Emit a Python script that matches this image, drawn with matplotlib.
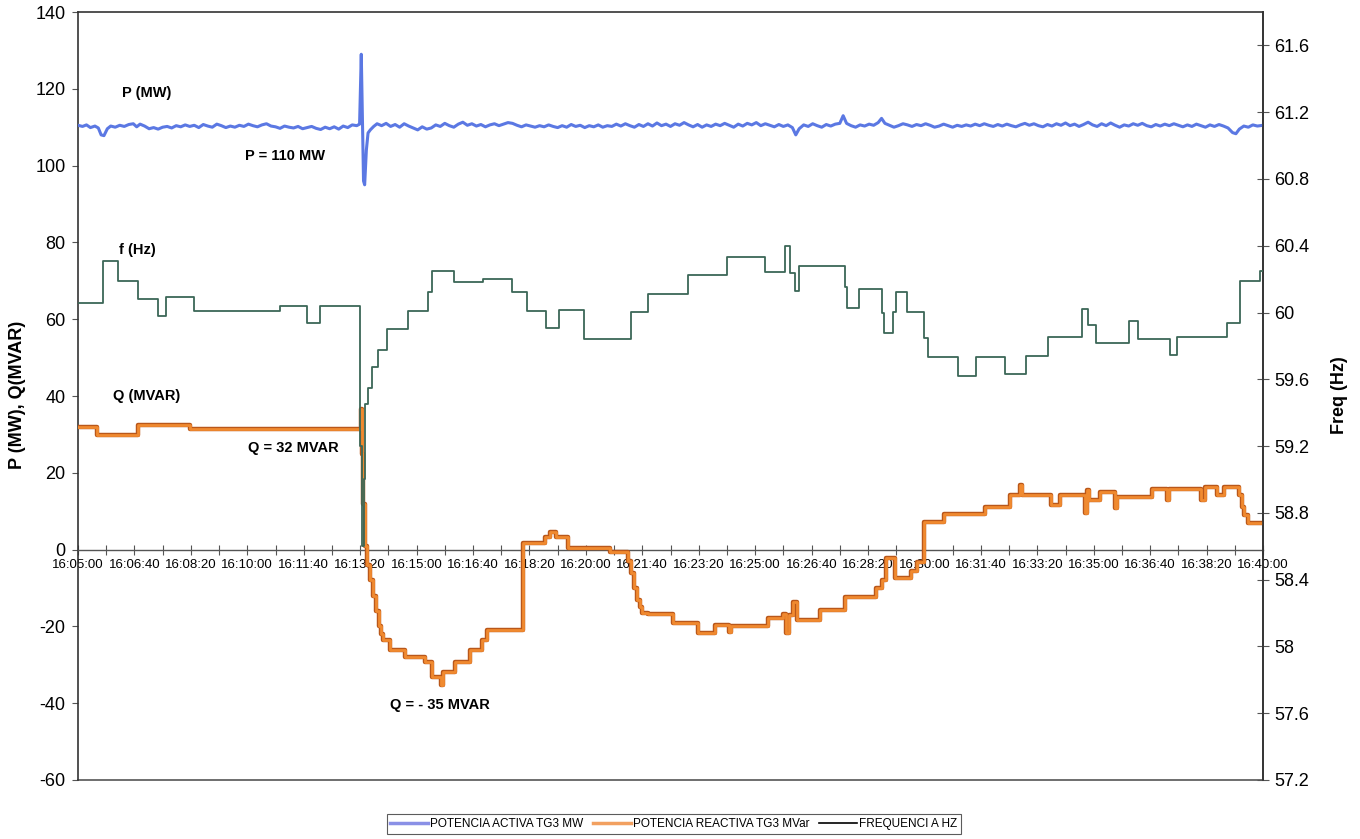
import matplotlib
matplotlib.use("Agg")
import matplotlib.pyplot as plt
import matplotlib.patheffects as pe
from matplotlib.lines import Line2D
from matplotlib.ticker import MultipleLocator, FuncFormatter, FixedLocator

plt.rcParams['font.family'] = ['Liberation Sans', 'DejaVu Sans']

# ---------------- data (seconds after 16:05:00) ----------------
p_t = [0, 8, 15, 22, 30, 36, 41, 46, 52, 58, 66, 74, 82, 90, 98, 104, 110, 118, 126, 134,
       142, 150, 158, 166, 174, 182, 190, 198, 206, 214, 222, 230, 238, 246, 254, 262, 270,
       278, 286, 294, 302, 310, 318, 326, 334, 342, 350, 358, 366, 374, 382, 390, 398, 406,
       414, 422, 430, 438, 446, 454, 462, 470, 478, 486, 494, 499, 502, 504, 506, 508, 511,
       514, 518, 524, 530, 538, 546, 554, 562, 570, 578, 586, 594, 602, 610, 618, 626, 634,
       642, 650, 658, 666, 674, 682, 690, 698, 706, 714, 722, 730, 738, 746, 754, 762, 770,
       778, 786, 794, 802, 810, 818, 826, 834, 842, 850, 858, 866, 874, 882, 890, 898, 906,
       914, 922, 930, 938, 946, 954, 962, 970, 978, 986, 994, 1002, 1010, 1018, 1026, 1034,
       1042, 1050, 1058, 1066, 1074, 1082, 1090, 1098, 1106, 1114, 1122, 1130, 1138, 1146,
       1154, 1162, 1170, 1178, 1186, 1194, 1202, 1210, 1218, 1226, 1234, 1242, 1250, 1258,
       1266, 1272, 1278, 1286, 1294, 1302, 1310, 1318, 1326, 1334, 1342, 1350, 1356, 1362,
       1370, 1378, 1386, 1394, 1402, 1410, 1418, 1424, 1430, 1438, 1446, 1454, 1462, 1470,
       1478, 1486, 1494, 1502, 1510, 1518, 1526, 1534, 1542, 1550, 1558, 1566, 1574, 1582,
       1590, 1598, 1606, 1614, 1622, 1630, 1638, 1646, 1654, 1662, 1670, 1678, 1686, 1694,
       1702, 1710, 1718, 1726, 1734, 1742, 1750, 1758, 1766, 1774, 1782, 1790, 1798, 1806,
       1814, 1822, 1830, 1838, 1846, 1854, 1862, 1870, 1878, 1886, 1894, 1902, 1910, 1918,
       1926, 1934, 1942, 1950, 1958, 1966, 1974, 1982, 1990, 1998, 2006, 2014, 2022, 2030,
       2038, 2046, 2052, 2058, 2066, 2074, 2082, 2090, 2100]
p_mw = [110.5, 110.2, 110.6, 109.9, 110.3, 109.8, 108.0, 107.8, 109.6, 110.3, 110.0, 110.5,
        110.2, 110.7, 110.9, 110.1, 110.8, 110.3, 109.6, 109.9, 109.5, 110.0, 110.2, 109.8,
        110.4, 110.1, 110.6, 110.2, 110.5, 109.9, 110.7, 110.3, 110.0, 110.8, 110.4, 109.9,
        110.3, 110.0, 110.5, 110.2, 110.8, 110.4, 110.1, 110.6, 110.9, 110.3, 110.1, 109.7,
        110.3, 110.0, 109.8, 110.2, 109.6, 109.9, 110.2, 109.7, 109.4, 110.0, 109.6, 110.1,
        109.5, 110.3, 109.9, 110.6, 110.4, 110.8, 129.0, 112.0, 96.0, 95.0, 104.0, 108.5,
        109.3, 110.2, 110.9, 110.4, 111.0, 110.2, 110.7, 110.0, 110.9, 110.3, 109.8, 109.3,
        110.1, 109.5, 109.8, 110.6, 110.2, 111.0, 110.4, 110.0, 110.8, 111.3, 110.5, 110.9,
        110.3, 110.7, 110.1, 110.6, 110.9, 110.4, 110.8, 111.2, 111.0, 110.5, 110.1, 110.6,
        110.3, 110.0, 110.4, 110.1, 110.6, 110.2, 109.9, 110.4, 110.0, 110.7, 110.2, 110.5,
        109.9, 110.4, 110.1, 110.6, 110.0, 110.4, 110.2, 110.8, 110.3, 110.9, 110.4, 110.0,
        110.7, 110.2, 110.9, 110.3, 111.1, 110.4, 110.8, 110.2, 110.9, 110.5, 111.2, 110.6,
        110.1, 110.7, 110.0, 110.6, 110.2, 110.8, 110.4, 111.0, 110.5, 110.0, 110.8, 110.3,
        111.0, 110.6, 111.2, 110.4, 110.9, 110.5, 110.1, 110.7, 110.2, 110.6, 109.9, 108.0,
        109.6, 110.6, 110.2, 110.9, 110.4, 110.0, 110.7, 110.3, 110.8, 111.0, 113.0, 111.0,
        110.4, 110.0, 110.6, 110.3, 110.8, 110.5, 111.2, 112.3, 111.0, 110.5, 110.0, 110.4,
        110.9, 110.6, 110.2, 110.7, 110.4, 110.9, 110.5, 110.0, 110.3, 110.8, 110.4, 110.0,
        110.5, 110.2, 110.6, 110.3, 110.8, 110.4, 110.9, 110.5, 110.2, 110.7, 110.3, 110.8,
        110.4, 110.1, 110.6, 111.0, 110.5, 110.9, 110.4, 110.1, 110.7, 110.3, 110.9, 110.5,
        111.1, 110.4, 110.8, 110.2, 110.7, 111.3, 110.6, 110.2, 110.9, 110.4, 111.1, 110.5,
        110.0, 110.6, 110.3, 110.9, 110.5, 111.0, 110.4, 110.1, 110.7, 110.3, 110.8, 110.4,
        110.9, 110.5, 110.1, 110.6, 110.2, 110.8, 110.4, 110.0, 110.6, 110.2, 110.7, 110.3,
        109.8, 108.6, 108.3, 109.5, 110.3, 110.0, 110.6, 110.3, 110.5]

q_t = [0, 34, 106, 198, 502, 503, 505, 509, 512, 517, 523, 528, 533, 537, 540, 553, 579, 615,
       627, 643, 647, 668, 695, 716, 725, 789, 828, 836, 847, 868, 943, 975, 980, 985, 991,
       996, 1000, 1010, 1026, 1054, 1099, 1129, 1154, 1157, 1223, 1249, 1255, 1260, 1267,
       1274, 1315, 1359, 1414, 1425, 1432, 1448, 1476, 1487, 1499, 1535, 1607, 1652, 1669,
       1673, 1725, 1741, 1785, 1788, 1791, 1812, 1837, 1842, 1904, 1930, 1934, 1990, 1997,
       2018, 2031, 2058, 2063, 2066, 2073, 2100]
q_mvar = [31.9, 29.8, 32.4, 31.3, 36.6, 25.0, 12.0, 1.0, -4.0, -8.0, -12.0, -16.0, -20.0,
          -22.0, -23.6, -26.2, -27.9, -29.2, -33.2, -35.2, -31.9, -29.2, -26.1, -23.5, -20.9,
          1.6, 3.4, 4.7, 3.4, 0.5, -0.7, -3.0, -6.0, -10.0, -13.0, -15.0, -16.5, -16.9, -16.9,
          -19.2, -21.8, -19.7, -21.5, -19.8, -17.9, -16.8, -21.8, -17.0, -13.6, -18.3, -15.7,
          -12.3, -10.1, -7.9, -2.3, -7.5, -5.7, -3.1, 7.3, 9.2, 11.2, 14.1, 16.7, 14.1, 11.7,
          14.1, 9.5, 15.6, 13.0, 15.1, 10.8, 13.8, 15.8, 13.0, 15.8, 13.0, 16.4, 14.1, 16.4,
          14.1, 11.0, 9.1, 6.9, 6.9]

f_t = [0, 44, 71, 106, 142, 156, 206, 358, 406, 429, 500, 503, 506, 509, 514, 521, 532, 548,
       585, 620, 627, 666, 718, 769, 796, 829, 852, 897, 980, 1010, 1081, 1150, 1217, 1253,
       1262, 1271, 1278, 1359, 1363, 1384, 1425, 1428, 1444, 1450, 1469, 1499, 1506, 1559,
       1591, 1643, 1680, 1719, 1779, 1790, 1804, 1862, 1878, 1935, 1948, 2036, 2059, 2095,
       2100]
f_hz = [60.06, 60.31, 60.19, 60.08, 59.98, 60.09, 60.01, 60.04, 59.94, 60.04, 59.20, 58.60,
        59.00, 59.45, 59.55, 59.675, 59.775, 59.90, 60.01, 60.12, 60.25, 60.18, 60.20, 60.12,
        60.01, 59.91, 60.015, 59.84, 60.005, 60.11, 60.225, 60.33, 60.245, 60.40, 60.235,
        60.13, 60.28, 60.15, 60.03, 60.14, 60.00, 59.88, 60.005, 60.12, 60.005, 59.845,
        59.735, 59.62, 59.735, 59.63, 59.74, 59.855, 60.02, 59.925, 59.82, 59.95, 59.84,
        59.745, 59.855, 59.935, 60.19, 60.25, 60.25]

left_ticks = [-60, -40, -20, 0, 20, 40, 60, 80, 100, 120, 140]
right_ticks = [57.2, 57.6, 58.0, 58.4, 58.8, 59.2, 59.6, 60.0, 60.4, 60.8, 61.2, 61.6]

# ---------------- figure ----------------
W, H = 1360, 839
fig = plt.figure(figsize=(W / 100, H / 100), dpi=100)
ax = fig.add_axes([78 / W, 1 - 780 / H, (1263 - 78) / W, (780 - 12) / H])
ax2 = ax.twinx()

ax.set_xlim(0, 2100)
ax.set_ylim(-60, 140)
ax2.set_ylim(57.2, 61.8)

blue = '#5b78e3'
orange = '#f08a30'
green = '#3b6757'

ax.plot(p_t, p_mw, color=blue, lw=2.2, solid_joinstyle='round', zorder=3)
ax.plot(q_t, q_mvar, color=orange, lw=2.0, drawstyle='steps-post', zorder=3,
        path_effects=[pe.Stroke(linewidth=3.2, foreground='#b9571a'), pe.Normal()])
ax2.plot(f_t, f_hz, color=green, lw=1.3, drawstyle='steps-post', zorder=3)

# spines
for s in ['left', 'right', 'top']:
    ax.spines[s].set_color('#333333')
    ax.spines[s].set_linewidth(1.2)
ax.spines['bottom'].set_position(('data', 0))
ax.spines['bottom'].set_color('#555555')
ax.spines['bottom'].set_linewidth(1.0)
ax.plot([0, 1], [0, 0], transform=ax.transAxes, color='#555555', lw=1.2, clip_on=False)
for s in ax2.spines.values():
    s.set_visible(False)
ax2.spines['right'].set_visible(True)
ax2.spines['right'].set_color('#333333')
ax2.spines['right'].set_linewidth(1.2)

# x ticks
ax.xaxis.set_major_locator(MultipleLocator(100))
ax.xaxis.set_minor_locator(MultipleLocator(50))


def tfmt(v, pos):
    s = int(round(v)) + 5 * 60
    return f"16:{s // 60:02d}:{s % 60:02d}"


ax.xaxis.set_major_formatter(FuncFormatter(tfmt))
ax.tick_params(axis='x', which='both', direction='inout', length=7, width=0.8,
               color='#555555', pad=3)
for lab in ax.get_xticklabels():
    lab.set_fontfamily(['Liberation Sans Narrow', 'Liberation Sans', 'DejaVu Sans'])
    lab.set_fontsize(9.5)

ax.yaxis.set_major_locator(FixedLocator(left_ticks))
ax.yaxis.set_major_formatter(FuncFormatter(lambda v, p: f"{int(v)}"))
ax.tick_params(axis='y', direction='out', length=4, width=0.8, color='#555555',
               labelsize=13, pad=5)

ax2.yaxis.set_major_locator(FixedLocator(right_ticks))
ax2.yaxis.set_major_formatter(FuncFormatter(lambda v, p: f"{v:g}"))
ax2.tick_params(axis='y', direction='inout', length=8, width=0.8, color='#555555',
                labelsize=13, pad=4)

# annotations
bold = dict(fontsize=10.5, fontweight='bold', ha='left', va='center', color='black')
ax.text(78, 118.8, 'P (MW)', **bold)
ax.text(296, 102.6, 'P = 110 MW', **bold)
ax.text(73, 78.1, 'f (Hz)', **bold)
ax.text(62, 40, 'Q (MVAR)', **bold)
ax.text(301, 26.4, 'Q = 32 MVAR', **bold)
ax.text(553, -40.5, 'Q = - 35 MVAR', **bold)

fig.text(18 / W, 1 - 395 / H, 'P (MW), Q(MVAR)', rotation=90, ha='center', va='center',
         fontsize=13, fontweight='bold')
fig.text(1340 / W, 1 - 395 / H, 'Freq (Hz)', rotation=90, ha='center', va='center',
         fontsize=13, fontweight='bold')

handles = [Line2D([], [], color='#8a90e6', lw=2.5),
           Line2D([], [], color='#f2a060', lw=2.5),
           Line2D([], [], color='black', lw=1.2)]
labels = ['POTENCIA ACTIVA TG3 MW', 'POTENCIA REACTIVA TG3 MVar', 'FREQUENCI A HZ']
leg = fig.legend(handles, labels, loc='center', bbox_to_anchor=(674 / W, 1 - 824 / H),
                 ncol=3, fontsize=8, frameon=True, fancybox=False, handlelength=3.2,
                 handletextpad=0.2, columnspacing=0.8, borderpad=0.3, edgecolor='#333333',
                 prop={'family': ['Liberation Sans Narrow', 'Liberation Sans', 'DejaVu Sans'],
                       'size': 8.5})
leg.get_frame().set_linewidth(0.8)

fig.savefig('out.png', dpi=100)
